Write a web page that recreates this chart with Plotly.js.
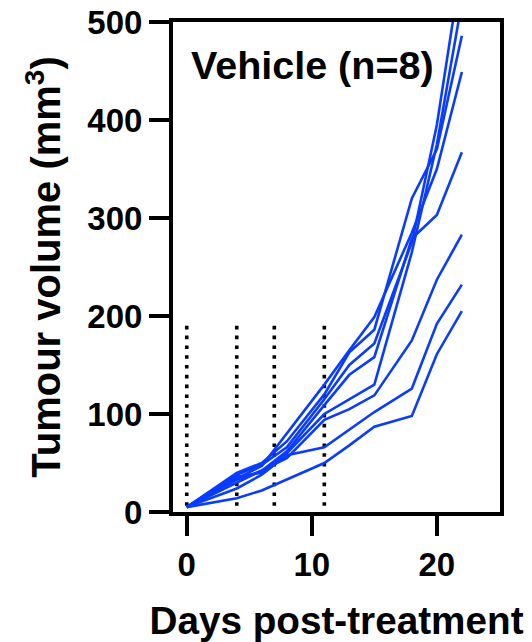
<!DOCTYPE html>
<html>
<head>
<meta charset="utf-8">
<script src="https://cdn.plot.ly/plotly-3.0.1.min.js"></script>
<style>html,body{margin:0;padding:0;background:#fff;}#chart{width:532px;height:642px;}</style>
</head>
<body>
<div id="chart"></div>
<script>
// Measurement days (post-treatment)
var days = [0, 4, 6, 8, 11, 13, 15, 18, 20, 22];
// Tumour volume (mm3) per animal
var mouse1 = [5, 38, 48, 66, 115, 150, 172, 275, 395, 560];
var mouse2 = [5, 36, 40, 60, 100, 115, 130, 265, 375, 520];
var mouse3 = [5, 40, 50, 72, 120, 163, 186, 320, 370, 486];
var mouse4 = [5, 34, 47, 80, 130, 165, 199, 285, 350, 449];
var mouse5 = [5, 33, 42, 62, 109, 140, 158, 279, 303, 367];
var mouse6 = [5, 30, 43, 55, 94, 105, 119, 175, 237, 283];
var mouse7 = [5, 24, 38, 58, 66, 84, 102, 126, 192, 232];
var mouse8 = [5, 14, 22, 33, 50, 68, 87, 98, 161, 205];
// Dosing days (dotted vertical lines) and their height
var dosingDays = [0, 4, 7, 11];
var dosingTop = 190;
var xTicks = [0, 10, 20];
var yTicks = [0, 100, 200, 300, 400, 500];
var groupLabel = 'Vehicle (n=8)';

var FONT = 'Liberation Sans, Arial, Helvetica, sans-serif';
var BLUE = '#0a3cff';

var traces = [];
dosingDays.forEach(function (d) {
  traces.push({
    x: [d, d], y: [dosingTop, 0], mode: 'lines', type: 'scatter',
    line: {color: '#000', width: 3.6, dash: '3.6px,6.2px'},
    hoverinfo: 'skip', showlegend: false
  });
});
[mouse1, mouse2, mouse3, mouse4, mouse5, mouse6, mouse7, mouse8].forEach(function (m) {
  traces.push({
    x: days, y: m, mode: 'lines', type: 'scatter',
    line: {color: BLUE, width: 2.6}, showlegend: false
  });
});

var layout = {
  width: 532, height: 642,
  margin: {l: 173, r: 32, t: 22, b: 130, pad: 0},
  paper_bgcolor: '#fff', plot_bgcolor: '#fff',
  showlegend: false,
  xaxis: {
    range: [-1.1, 25.05], tickvals: xTicks, ticktext: xTicks.map(String),
    ticks: 'outside', ticklen: 20, tickwidth: 4, tickcolor: '#000',
    showline: true, linewidth: 4, linecolor: '#000', mirror: true,
    showgrid: false, zeroline: false, fixedrange: true,
    tickfont: {family: FONT, size: 33, color: '#000', weight: 'bold'},
    title: {text: 'Days post-treatment', font: {family: FONT, size: 38.7, color: '#000', weight: 'bold'}, standoff: 26}
  },
  yaxis: {
    range: [0, 500], tickvals: yTicks, ticktext: yTicks.map(String),
    ticks: 'outside', ticklen: 20, tickwidth: 4, tickcolor: '#000',
    showline: true, linewidth: 4, linecolor: '#000', mirror: true,
    showgrid: false, zeroline: false, fixedrange: true,
    tickfont: {family: FONT, size: 33, color: '#000', weight: 'bold'},
    title: {text: 'Tumour volume (mm<sup>3</sup>)', font: {family: FONT, size: 40, color: '#000', weight: 'bold'}, standoff: 15}
  },
  annotations: [{
    text: groupLabel, xref: 'paper', yref: 'paper', x: 0.427, y: 0.913,
    xanchor: 'center', yanchor: 'middle', showarrow: false,
    font: {family: FONT, size: 39.5, color: '#000', weight: 'bold'}
  }]
};

Plotly.newPlot('chart', traces, layout, {displayModeBar: false, staticPlot: true});
</script>
</body>
</html>
